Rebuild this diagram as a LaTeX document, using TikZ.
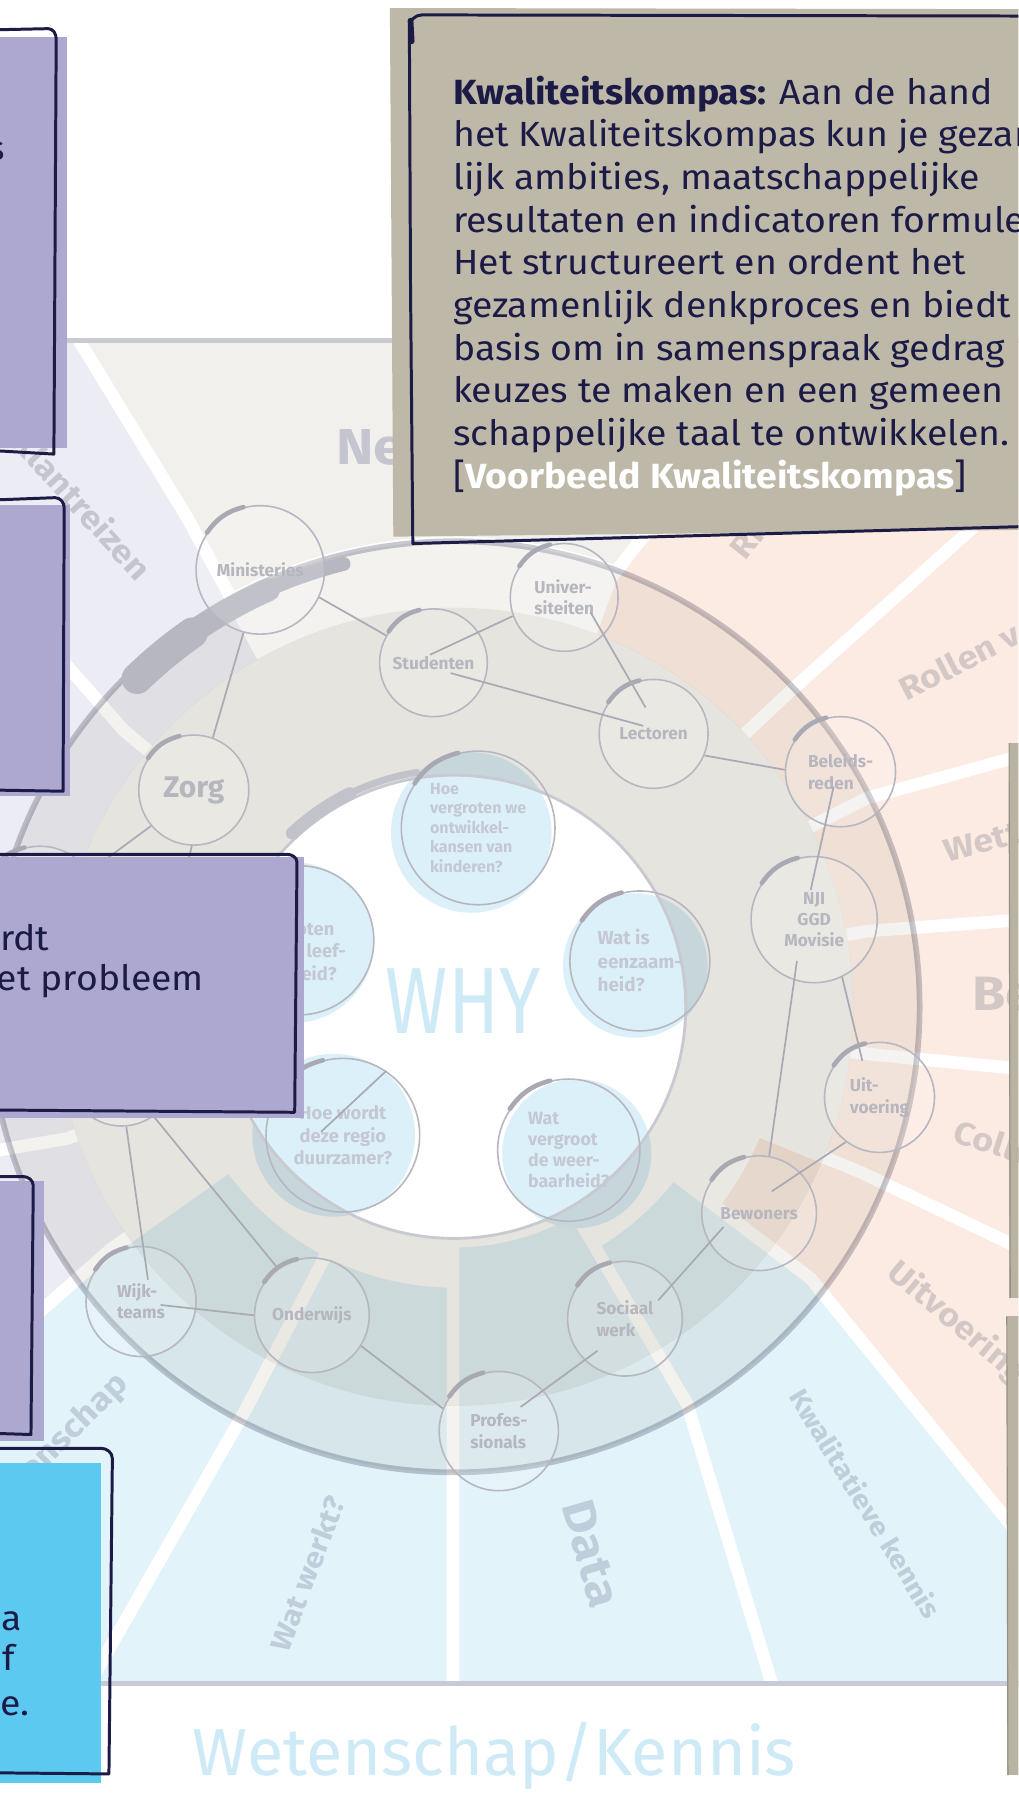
\documentclass[tikz,border=0pt]{standalone}
\usepackage{fontspec}
\setmainfont{Fira Sans}
\newfontfamily\boxfont{Fira Sans}[FakeStretch=1.07]
\newfontfamily\labelfont{Fira Sans}[FakeStretch=1.12]
\newfontfamily\handfont{Fira Sans}[FakeStretch=0.8]
\usetikzlibrary{calc}

\definecolor{navy}{HTML}{1C1B45}
\definecolor{tanbox}{HTML}{BEB8A9}
\definecolor{tanstrip}{HTML}{B9B3A3}
\definecolor{purplebox}{HTML}{ACA8D0}
\definecolor{cyanbox}{HTML}{5CCAF0}
\definecolor{lavsec}{HTML}{ECEDF4}
\definecolor{graysec}{HTML}{F1F0EC}
\definecolor{peachsec}{HTML}{FCEBE3}
\definecolor{bluesec}{HTML}{E2F3FA}
\definecolor{mainband}{HTML}{E6E4DF}
\definecolor{lightband}{HTML}{F3F2EF}
\definecolor{ringline}{HTML}{C9C9D1}
\definecolor{nodeline}{HTML}{B7B7C1}
\definecolor{nodetext}{HTML}{B6B6BF}
\definecolor{connline}{HTML}{A9AAB4}
\definecolor{accentgray}{HTML}{A9A9B4}
\definecolor{qblue}{HTML}{DCF0FA}
\definecolor{qtext}{HTML}{C4C8D2}
\definecolor{whyblue}{HTML}{CDEAF6}
\definecolor{labgray}{HTML}{C4C5CF}
\definecolor{labpeach}{HTML}{D4C8C6}
\definecolor{labblue}{HTML}{BFCEDA}
\definecolor{framegray}{HTML}{CACAD2}
\definecolor{framebot}{HTML}{C6CBD7}
\definecolor{brushgray}{HTML}{B7B7C1}

\newcommand{\fsz}[2]{\fontsize{#1}{#2}\selectfont}
% fill a sector outside a given radius
\newcommand{\sectorfill}[3]{%
  \begin{scope}
    \clip #3;
    \fill[#1, even odd rule] (-40,-280) rectangle (930,-1480) (C) circle[radius=#2];
  \end{scope}}

\tikzset{
  ringnode/.style={circle, draw=nodeline, line width=1.4pt, fill=white, fill opacity=0.15, text opacity=1,
    text=nodetext, font=\fsz{15}{18.5}\bfseries, align=left, inner sep=0pt, minimum size=#1},
  qnode/.style={circle, draw=nodeline, line width=1.4pt, text=qtext, inner sep=0pt, minimum size=#1},
  conn/.style={draw=connline, line width=1.5pt},
  accent/.style={draw=accentgray, line width=4pt, line cap=round},
  gap/.style={draw=white, line width=11pt},
  seclabel/.style={font=\labelfont\fsz{28}{32}\bfseries, inner sep=0pt},
  boxtext/.style={text=navy, font=\boxfont\fsz{30.5}{37.2}, align=left, inner sep=0pt},
  boxline/.style={draw=navy, line width=2.6pt, line cap=round, line join=round},
}

\begin{document}
\begin{tikzpicture}[x=1pt,y=1pt]
\useasboundingbox (0,0) rectangle (888,-1568);
\clip (0,0) rectangle (888,-1568);
\fill[white] (0,0) rectangle (888,-1568);

% centre and sector borders
\coordinate (C) at (396,-878);
\coordinate (p119) at (163,-451);  \coordinate (o119) at (69,-297);
\coordinate (p139) at (108,-637);  \coordinate (o139) at (-30,-480);
\coordinate (p198) at (58,-993);   \coordinate (o198) at (-30,-1008);
\coordinate (p216) at (96,-1090);  \coordinate (o216) at (-30,-1201);
\coordinate (p242) at (215,-1228); \coordinate (o242) at (78,-1468);
\coordinate (p270) at (395,-1090); \coordinate (o270) at (395,-1468);
\coordinate (p298) at (599,-1224); \coordinate (o298) at (673,-1468);
\coordinate (pM40) at (707,-1115); \coordinate (oM40) at (920,-1377);
\coordinate (pM22) at (750,-1022); \coordinate (oM22) at (920,-1103);
\coordinate (pM6) at (765,-920);   \coordinate (oM6) at (920,-935);
\coordinate (p9) at (756,-812);    \coordinate (o9) at (920,-800);
\coordinate (p25) at (756,-696);   \coordinate (o25) at (920,-651);
\coordinate (p43) at (689,-603);   \coordinate (o43) at (920,-396);
\coordinate (p69) at (532,-505);   \coordinate (o69) at (695,-297);

% sectors
\sectorfill{lavsec}{348}{(C) -- (p119) -- (o119) -- (-40,-297) -- (-40,-1201) -- (o216) -- (p216) -- cycle}
\sectorfill{graysec}{410}{(C) -- (p69) -- (o69) -- (o119) -- (p119) -- cycle}
\sectorfill{peachsec}{348}{(C) -- (p69) -- (o69) -- (930,-297) -- (oM22) -- (pM22) -- cycle}
\sectorfill{peachsec}{290}{(C) -- (pM22) -- (oM22) -- (oM40) -- (pM40) -- cycle}
\sectorfill{bluesec}{245}{(C) -- (pM40) -- (oM40) -- (930,-1468) -- (o298) -- (p298) -- cycle}
\sectorfill{bluesec}{210}{(C) -- (p298) -- (o298) -- (o270) -- (p270) -- cycle}
\sectorfill{bluesec}{245}{(C) -- (o270) -- (-40,-1468) -- (-40,-1201) -- (o216) -- (p216) -- cycle}

\foreach \p/\o in {p119/o119,p139/o139,p198/o198,p216/o216,p242/o242,p270/o270,p298/o298,
  pM40/oM40,pM22/oM22,pM6/oM6,p9/o9,p25/o25,p43/o43,p69/o69}
  \draw[gap] (C) -- (\p) -- (\o);

% frame lines
\draw[framegray, line width=5pt] (-30,-297) -- (900,-297);
\draw[framebot, line width=4pt] (-30,-1468) -- (900,-1468);

% sector labels
\node[seclabel, text=labgray, rotate=-47.6, anchor=base east] (lklant) at (119,-508) {Klantreizen};
\node[seclabel, font=\labelfont\fsz{44}{50}\bfseries, text=labgray, anchor=base west] (lnet) at (293,-405) {Net};
\node[seclabel, text=labpeach, rotate=52, anchor=base west] (lri) at (650,-490) {Ri};
\node[seclabel, text=labpeach, rotate=27, anchor=base west] (lrol) at (790,-612) {Rollen v};
\node[seclabel, text=labpeach, rotate=15, anchor=base west] (lwet) at (826,-752) {Wett};
\node[seclabel, font=\labelfont\fsz{42}{48}\bfseries, text=labpeach, anchor=base west] (lbe) at (848,-881) {Be};
\node[seclabel, text=labpeach, rotate=-18, anchor=base west] (lcol) at (830,-995) {Colle};
\node[seclabel, text=labpeach, rotate=-40, anchor=base west] (luit) at (772,-1112) {Uitvoering};
\node[seclabel, font=\labelfont\fsz{23}{27}\bfseries, text=labblue, rotate=-58.5] (lkwal) at (755,-1311) {Kwalitatieve kennis};
\node[seclabel, font=\labelfont\fsz{40}{46}\bfseries, text=labblue, rotate=-74] (ldata) at (516,-1355) {Data};
\node[seclabel, font=\labelfont\fsz{25}{29}\bfseries, text=labblue, rotate=69] (lwat) at (268,-1372) {Wat werkt?};
\node[seclabel, text=labblue, rotate=45, anchor=base east] (lwsch) at (113,-1208) {Wetenschap};

% ring
\fill[white] (C) circle[radius=202];
\fill[qblue] (411,-726) circle[radius=70];
\fill[qblue] (256,-822) circle[radius=70];
\fill[qblue] (554,-842) circle[radius=63];
\fill[qblue] (291,-990) circle[radius=71];
\fill[qblue] (503,-1006) circle[radius=65];
\fill[lightband, blend mode=multiply, even odd rule] (C) circle[radius=406] (C) circle[radius=348];
\fill[mainband, blend mode=multiply, even odd rule] (C) circle[radius=348] (C) circle[radius=202];
\draw[ringline, line width=2.5pt] (C) circle[radius=202];
\draw[ringline, line width=5pt, blend mode=multiply] (C) circle[radius=406];
\draw[brushgray, line width=12pt, line cap=round] ($(C)+(104:398)$) arc[start angle=104, end angle=134, radius=398];
\draw[brushgray, line width=20pt, line cap=round] ($(C)+(114:398)$) arc[start angle=114, end angle=134, radius=398];
\draw[brushgray, line width=27pt, line cap=round] ($(C)+(125:398)$) arc[start angle=125, end angle=134, radius=398];
\draw[brushgray!85, line width=6pt, line cap=round] ($(C)+(99:207)$) arc[start angle=99, end angle=133, radius=207];
\draw[brushgray!85, line width=11pt, line cap=round] ($(C)+(116:207)$) arc[start angle=116, end angle=133, radius=207];

\node[font=\handfont\fsz{82}{90}, text=whyblue, anchor=base] (why) at (404,-901) {WHY};

% actors on the ring
\node[ringnode=112pt] (min) at (227,-497) {Ministeries};
\node[ringnode=94pt] (stud) at (378,-578) {Studenten};
\node[ringnode=94pt] (univ) at (492,-521) {Univer-\\siteiten};
\node[ringnode=95pt] (lect) at (570,-640) {Lectoren};
\node[ringnode=96pt] (bel) at (733,-673) {Beleids-\\reden};
\node[ringnode=110pt, align=center] (nji) at (710,-802) {NJI\\GGD\\Movisie};
\node[ringnode=96pt] (uitv) at (767,-957) {Uit-\\voering};
\node[ringnode=100pt] (bew) at (662,-1058) {Bewoners};
\node[ringnode=100pt] (soc) at (545,-1150) {Sociaal\\werk};
\node[ringnode=104pt] (prof) at (435,-1248) {Profes-\\sionals};
\node[ringnode=100pt] (ond) at (272,-1147) {Onderwijs};
\node[ringnode=96pt] (wijk) at (123,-1135) {Wijk-\\teams};
\node[ringnode=96pt, font=\fsz{26}{30}\bfseries] (zorg) at (169,-689) {Zorg};
\node[ringnode=104pt] (hida) at (35,-790) {};
\node[ringnode=94pt] (hidb) at (106,-935) {};

% questions
\node[qnode=134pt, font=\fsz{14}{17}\bfseries, align=left] (qkind) at (417,-722) {Hoe\\vergroten we\\ontwikkel-\\kansen van\\kinderen?};
\node[qnode=130pt, font=\fsz{16}{19.5}\bfseries, align=left] (qleef) at (261,-820) {Hoe\\vergroten\\we de leef-\\baarheid?};
\node[qnode=122pt, font=\fsz{16.5}{20.5}\bfseries, align=left] (qeenz) at (558,-838) {Wat is\\eenzaam-\\heid?};
\node[qnode=134pt, font=\fsz{16}{19.5}\bfseries, align=center] (qregio) at (299,-990) {Hoe wordt\\deze regio\\duurzamer?};
\node[qnode=124pt, font=\fsz{15.5}{18.5}\bfseries, align=left] (qweer) at (496,-1003) {Wat\\vergroot\\de weer-\\baarheid?};

\foreach \n in {min,stud,univ,lect,bel,nji,uitv,bew,soc,prof,ond,wijk,zorg,hida,qkind,qleef,qeenz,qregio,qweer}
  \draw[accent] (\n.145) to[bend left=20] (\n.105);

% links
\draw[conn] (min.255) -- (zorg.70);
\draw[conn] (min.335) -- (stud.150);
\draw[conn] ($(stud.center)+(-3,7)$) -- (univ.200);
\draw[conn] ($(stud.center)+(15,-9)$) -- ($(lect.center)+(-9,7)$);
\draw[conn] ($(univ.center)+(23,-13)$) -- ($(lect.center)+(-7,23)$);
\draw[conn] (lect.337) -- (bel.178);
\draw[conn] ($(bel.center)+(-6,-13)$) -- ($(nji.center)+(-3,26)$);
\draw[conn] (nji.296) -- ($(uitv.center)+(-15,32)$);
\draw[conn] ($(nji.center)+(-15,-36)$) -- (bew.80);
\draw[conn] (uitv.233) -- ($(bew.center)+(11,19)$);
\draw[conn] ($(bew.center)+(-31,-12)$) -- ($(soc.center)+(29,16)$);
\draw[conn] ($(soc.center)+(-24,-28)$) -- ($(prof.center)+(19,21)$);
\draw[conn] (prof.158) -- (ond.328);
\draw[conn] (ond.180) -- ($(wijk.center)+(17,-3)$);
\draw[conn] (ond.126) -- (hidb.306);
\draw[conn] ($(wijk.center)+(6,19)$) -- (hidb.275);
\draw[conn] (zorg.220) -- (hida.35);
\draw[conn] (zorg.268) -- (hidb.60);
\draw[conn] ($(qregio.center)+(-19,3)$) -- (qregio.56);

% text box top
\fill[tanbox] (340,-7) -- (900,-8) -- (900,-462) -- (343,-468) -- cycle;
\draw[boxline] (900,-14) -- (368,-13) to[out=180,in=90] (357,-24) -- (358,-250) -- (360,-474) -- (900,-459);
\draw[navy, line width=5pt, line cap=round] (358,-18) -- (359,-36);
\node[boxtext, anchor=north west] (kompas) at (395,-66) {%
  {\bfseries Kwaliteitskompas:}\hspace{12pt}Aan de hand\\
  het Kwaliteitskompas kun je gezam\\
  lijk ambities, maatschappelijke\\
  resultaten en indicatoren formule\\
  Het structureert en ordent het\\
  gezamenlijk denkproces en biedt\\
  basis om in samenspraak gedrag\\
  keuzes te maken en een gemeen\\
  schappelijke taal te ontwikkelen.\\
  {[}\textcolor{white}{\bfseries Voorbeeld Kwaliteitskompas}{]}};

% boxes on the left
\fill[purplebox] (-5,-32) rectangle (58,-391);
\draw[boxline] (-5,-26) -- (42,-25) to[out=0,in=90] (49,-34) -- (47,-396) -- (-5,-393);
\node[boxtext, anchor=base east] (atext) at (4.5,-140) {s};

\fill[purplebox] (-5,-440) rectangle (61,-694);
\draw[boxline] (-5,-436) -- (48,-434) to[out=0,in=90] (56,-443) -- (55,-690) -- (-5,-689);

\fill[purplebox] (-5,-747) rectangle (265,-975);
\draw[boxline] (-5,-745) -- (250,-745) to[out=0,in=90] (259,-752) -- (257,-970) -- (-5,-968);
\node[boxtext, anchor=base west] (ctexta) at (0,-829) {rdt};
\node[boxtext, anchor=base west] (ctextb) at (-3,-864) {et probleem};

\fill[purplebox] (-5,-1030) rectangle (38,-1257);
\draw[boxline] (-5,-1026) -- (20,-1026) to[out=0,in=90] (29,-1034) -- (27,-1251) -- (-5,-1250);

\fill[cyanbox] (-5,-1276) rectangle (88,-1555);
\draw[boxline] (-5,-1263) -- (88,-1263) to[out=0,in=90] (98,-1272) -- (95,-1547) -- (-5,-1546);
\node[boxtext, anchor=base east] (etexta) at (19,-1422) {ia};
\node[boxtext, anchor=base east] (etextb) at (13,-1457) {of};
\node[boxtext, anchor=base east] (etextc) at (26,-1496) {e.};

% boxes on the right edge
\fill[tanstrip] (880,-648) rectangle (900,-1132);
\draw[tanstrip!80!black, line width=1pt] (880,-648) -- (881,-1132);
\fill[tanstrip] (878,-1148) rectangle (900,-1548);
\draw[tanstrip!80!black, line width=1pt] (878,-1148) -- (879,-1548);

\node[font=\fsz{58}{64}, text=whyblue, anchor=base] (wk) at (431,-1548) {Wetenschap/Kennis};
\end{tikzpicture}
\end{document}
